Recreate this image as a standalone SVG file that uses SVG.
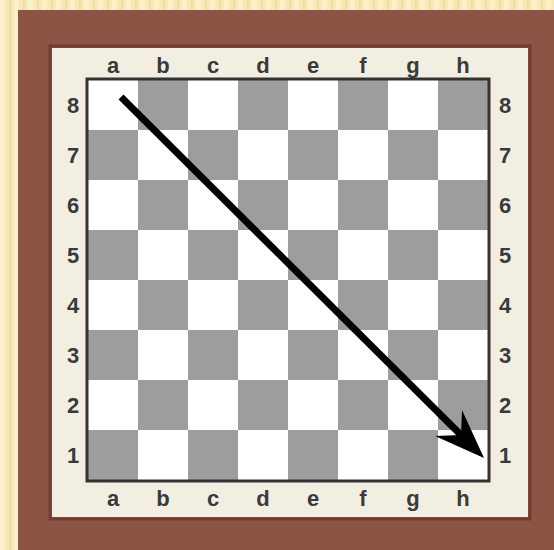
<svg xmlns="http://www.w3.org/2000/svg" width="554" height="550" viewBox="0 0 554 550">
  <defs>
    <pattern id="stripes" x="0" y="0" width="14" height="20" patternUnits="userSpaceOnUse">
      <rect width="14" height="20" fill="#f7e8b6"/>
      <rect x="0" width="5" height="20" fill="#fbf0c8"/>
      <rect x="9" width="2" height="20" fill="#efdda4"/>
    </pattern>
    <pattern id="board" x="88" y="80" width="100" height="100" patternUnits="userSpaceOnUse">
      <rect width="100" height="100" fill="#ffffff"/>
      <rect x="50" y="0" width="50" height="50" fill="#9d9d9d"/>
      <rect x="0" y="50" width="50" height="50" fill="#9d9d9d"/>
    </pattern>
  </defs>
  <style>
    .lbl { font-family: "Liberation Sans", Arial, sans-serif; font-weight: bold; font-size: 22px; fill: #3a3a3a; text-anchor: middle; }
  </style>
  <rect width="554" height="550" fill="url(#stripes)"/>
  <g id="frame">
    <rect x="18" y="10" width="536" height="540" fill="#8c5444"/>
    <rect x="50" y="46" width="480" height="473" fill="none" stroke="#6f3e31" stroke-width="3"/>
    <rect x="52" y="48" width="476" height="469" fill="#f2efe2"/>
  </g>
  <g id="board-squares">
    <rect x="88" y="80" width="400" height="400" fill="url(#board)"/>
    <rect x="87" y="79" width="402" height="402" fill="none" stroke="#333333" stroke-width="3"/>
  </g>
  <g id="labels">
    <text class="lbl" x="113" y="73">a</text>
    <text class="lbl" x="163" y="73">b</text>
    <text class="lbl" x="213" y="73">c</text>
    <text class="lbl" x="263" y="73">d</text>
    <text class="lbl" x="313" y="73">e</text>
    <text class="lbl" x="363" y="73">f</text>
    <text class="lbl" x="413" y="73">g</text>
    <text class="lbl" x="463" y="73">h</text>
    <text class="lbl" x="113" y="506">a</text>
    <text class="lbl" x="163" y="506">b</text>
    <text class="lbl" x="213" y="506">c</text>
    <text class="lbl" x="263" y="506">d</text>
    <text class="lbl" x="313" y="506">e</text>
    <text class="lbl" x="363" y="506">f</text>
    <text class="lbl" x="413" y="506">g</text>
    <text class="lbl" x="463" y="506">h</text>
    <text class="lbl" x="73" y="113">8</text>
    <text class="lbl" x="73" y="163">7</text>
    <text class="lbl" x="73" y="213">6</text>
    <text class="lbl" x="73" y="263">5</text>
    <text class="lbl" x="73" y="313">4</text>
    <text class="lbl" x="73" y="363">3</text>
    <text class="lbl" x="73" y="413">2</text>
    <text class="lbl" x="73" y="463">1</text>
    <text class="lbl" x="505" y="113">8</text>
    <text class="lbl" x="505" y="163">7</text>
    <text class="lbl" x="505" y="213">6</text>
    <text class="lbl" x="505" y="263">5</text>
    <text class="lbl" x="505" y="313">4</text>
    <text class="lbl" x="505" y="363">3</text>
    <text class="lbl" x="505" y="413">2</text>
    <text class="lbl" x="505" y="463">1</text>
  </g>
  <g id="connectors">
    <line x1="121" y1="97" x2="463" y2="437" stroke="#000000" stroke-width="7" stroke-linecap="butt"/>
    <polygon points="484,458 435,436 461,435 462,410" fill="#000000"/>
  </g>
</svg>
